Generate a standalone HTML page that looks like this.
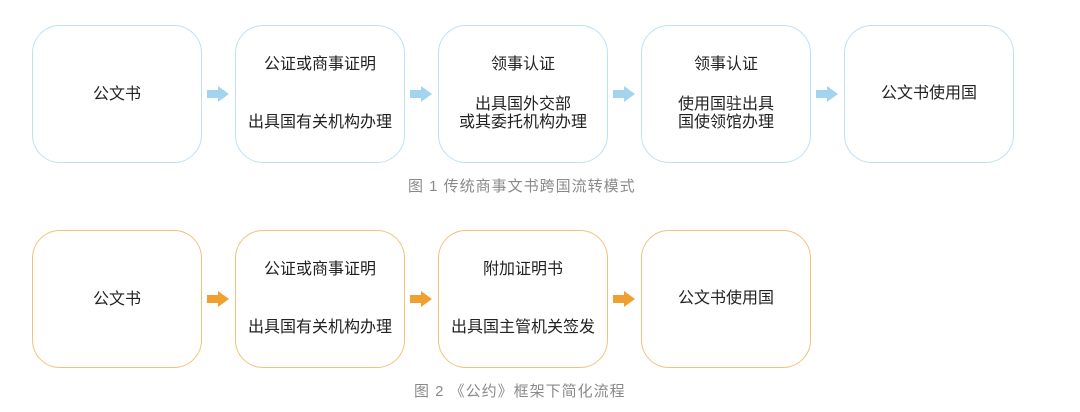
<!DOCTYPE html>
<html><head><meta charset="utf-8"><style>
body{margin:0;width:1080px;height:412px;background:#fff;position:relative;overflow:hidden;font-family:"Liberation Sans","Noto Sans CJK SC",sans-serif;}
.b{position:absolute;width:170px;height:138px;border-radius:28px;box-sizing:border-box;}
.r1{top:25px;border:1.5px solid #bfe0f2;}
.r2{top:230px;border:1.5px solid #f2c27a;}
.t{position:absolute;left:0;width:100%;text-align:center;font-size:16px;color:#222;line-height:18px;white-space:nowrap;}
.cap{position:absolute;font-size:15px;letter-spacing:1px;color:#8a8a8a;white-space:nowrap;}
svg{position:absolute;left:0;top:0}
</style></head><body>
<div class="b r1" style="left:32px"><div class="t" style="top:60px">公文书</div></div>
<div class="b r1" style="left:235px"><div class="t" style="top:30px">公证或商事证明</div><div class="t" style="top:88px">出具国有关机构办理</div></div>
<div class="b r1" style="left:438px"><div class="t" style="top:30px">领事认证</div><div class="t" style="top:70px">出具国外交部</div><div class="t" style="top:88px">或其委托机构办理</div></div>
<div class="b r1" style="left:641px"><div class="t" style="top:30px">领事认证</div><div class="t" style="top:70px">使用国驻出具</div><div class="t" style="top:88px">国使领馆办理</div></div>
<div class="b r1" style="left:844px"><div class="t" style="top:59px">公文书使用国</div></div>
<div class="cap" style="left:408px;top:175px">图 1&nbsp;传统商事文书跨国流转模式</div>

<div class="b r2" style="left:32px"><div class="t" style="top:60px">公文书</div></div>
<div class="b r2" style="left:235px"><div class="t" style="top:30px">公证或商事证明</div><div class="t" style="top:88px">出具国有关机构办理</div></div>
<div class="b r2" style="left:438px"><div class="t" style="top:30px">附加证明书</div><div class="t" style="top:88px">出具国主管机关签发</div></div>
<div class="b r2" style="left:641px"><div class="t" style="top:59px">公文书使用国</div></div>
<div class="cap" style="left:414px;top:380px">图 2&nbsp;《公约》框架下简化流程</div>

<svg width="1080" height="412">
<g fill="#a3d4ef">
<polygon points="207,90 218,90 218,86 229,94 218,102 218,98 207,98"/>
<polygon points="410,90 421,90 421,86 432,94 421,102 421,98 410,98"/>
<polygon points="613,90 624,90 624,86 635,94 624,102 624,98 613,98"/>
<polygon points="816,90 827,90 827,86 838,94 827,102 827,98 816,98"/>
</g>
<g fill="#f0a030">
<polygon points="207,295 218,295 218,291 229,299 218,307 218,303 207,303"/>
<polygon points="410,295 421,295 421,291 432,299 421,307 421,303 410,303"/>
<polygon points="613,295 624,295 624,291 635,299 624,307 624,303 613,303"/>
</g>
</svg>
</body></html>
